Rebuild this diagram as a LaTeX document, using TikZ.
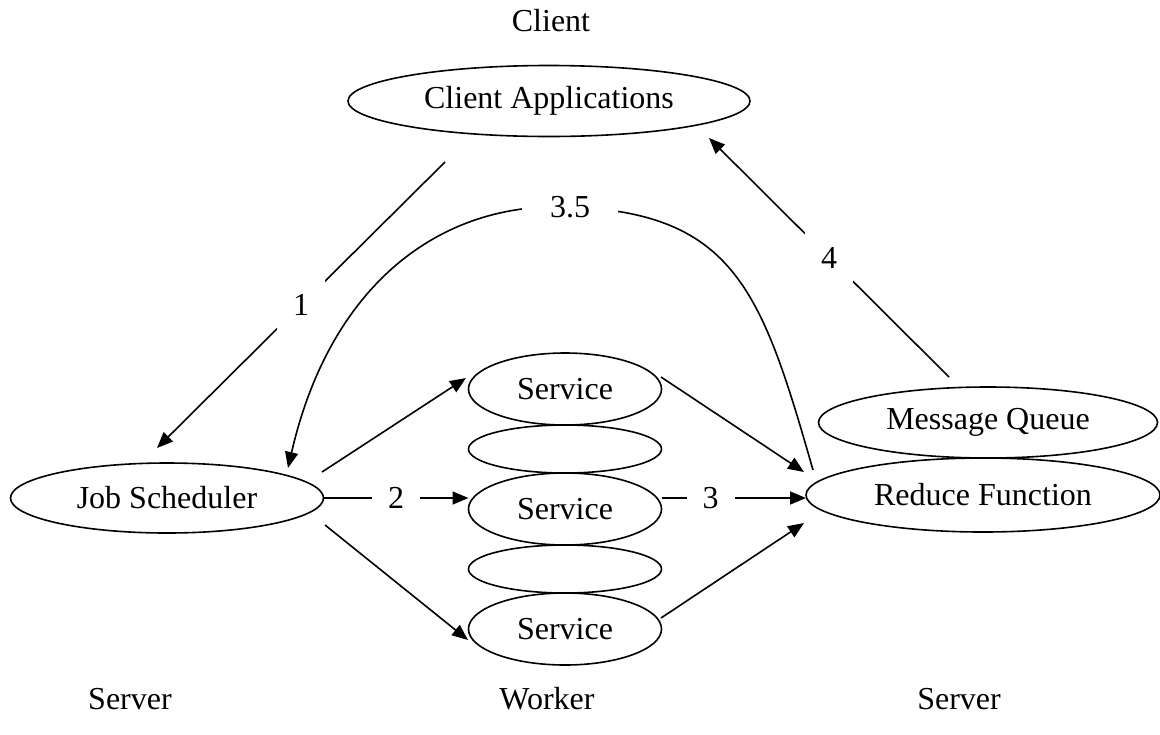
\documentclass[tikz,border=0pt]{standalone}
\usepackage{fontspec}
\setmainfont{Liberation Serif}
\usetikzlibrary{positioning,arrows.meta,shapes.geometric}
\newcommand{\diagfont}{\fontsize{16}{19}\selectfont}
\tikzset{
  node-oval/.style={draw,ellipse,line width=0.8pt,inner sep=0pt,outer sep=0pt,
    font=\diagfont},
  node-svc/.style={minimum width=96.5pt,minimum height=36pt},
  node-gap/.style={minimum width=96.5pt,minimum height=24pt},
  node-tag/.style={font=\diagfont},
  node-step/.style={fill=white,inner sep=8pt,font=\diagfont},
  arrow/.style={-{Triangle[length=8pt,width=6.5pt]},line width=0.8pt},
}
\begin{document}
\begin{tikzpicture}[x=0.5pt,y=-0.5pt]
  \useasboundingbox (0,0) rectangle (1160,734);

  % tier captions
  \node[node-tag] (cap-client) at (551,21) {Client};
  \node[node-tag] (cap-srv-l) at (130,699) {Server};
  \node[node-tag] (cap-worker) at (547,699) {Worker};
  \node[node-tag] (cap-srv-r) at (959,699) {Server};

  \node[node-oval,minimum width=201pt,minimum height=35.5pt] (ca) at (549,101) {Client Applications};
  \node[node-oval,minimum width=156.5pt,minimum height=35pt] (js) at (167,498) {Job Scheduler};

  % worker stack
  \node[node-oval,node-svc] (s1) at (565,389) {Service};
  \node[node-oval,node-gap,below=0pt of s1] (g1) {};
  \node[node-oval,node-svc,below=0pt of g1] (s2) {Service};
  \node[node-oval,node-gap,below=0pt of s2] (g2) {};
  \node[node-oval,node-svc,below=0pt of g2] (s3) {Service};

  \node[node-oval,minimum width=177pt,minimum height=37pt] (rf) at (983,495) {Reduce Function};
  \node[node-oval,minimum width=169.5pt,minimum height=35.5pt,above=0pt of rf,xshift=2.5pt] (mq) {Message Queue};

  % loose ends of the connectors
  \coordinate (a1-from) at (445,162);
  \coordinate (a1-to) at (157,448);
  \coordinate (a4-from) at (949,377);
  \coordinate (a4-to) at (709,138);
  \coordinate (js-up) at (322,472);
  \coordinate (js-dn) at (325,525);
  \coordinate (s1-in) at (466,378);
  \coordinate (s3-in) at (468,640);
  \coordinate (s1-out) at (661,377);
  \coordinate (s3-out) at (661,618);
  \coordinate (rf-in-up) at (804,472);
  \coordinate (rf-in-dn) at (804,523);
  \coordinate (a35-from) at (813,470);
  \coordinate (a35-top) at (570,207);
  \coordinate (a35-to) at (288,468);

  \draw[arrow] (a1-from) -- node[node-step]{1} (a1-to);
  \draw[arrow] (js.east) -- node[node-step]{2} (js.east -| s2.west);
  \draw[arrow] (js-up) -- (s1-in);
  \draw[arrow] (js-dn) -- (s3-in);
  \draw[arrow] (js.east -| s2.east) -- node[node-step,pos=0.34]{3} (js.east -| rf.west);
  \draw[arrow] (s1-out) -- (rf-in-up);
  \draw[arrow] (s3-out) -- (rf-in-dn);
  \draw[arrow] (a35-from) .. controls (762,292) and (735,213) .. (a35-top)
    node[node-step,minimum width=48pt]{3.5}
    .. controls (440,201) and (330,285) .. (a35-to);
  \draw[arrow] (a4-from) -- node[node-step]{4} (a4-to);
\end{tikzpicture}
\end{document}
